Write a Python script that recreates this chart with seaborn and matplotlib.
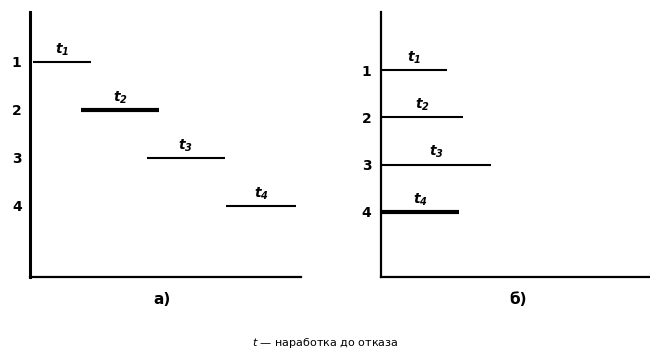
import matplotlib
matplotlib.use("Agg")
import matplotlib.pyplot as plt
import seaborn as sns
import pandas as pd

sns.set_style("white")
plt.rcParams['font.family'] = ['DejaVu Sans']
plt.rcParams['text.color'] = 'black'
plt.rcParams['ytick.color'] = 'black'
plt.rcParams['xtick.color'] = 'black'
plt.rcParams['mathtext.fontset'] = 'custom'
plt.rcParams['mathtext.bf'] = 'DejaVu Sans:italic:bold'
plt.rcParams['mathtext.it'] = 'DejaVu Sans:italic'
plt.rcParams['mathtext.rm'] = 'DejaVu Sans'
plt.rcParams['lines.solid_capstyle'] = 'butt'

# Data: operating time intervals for objects 1..4
objects = [1, 2, 3, 4]
labels = [r'$\mathbf{t_1}$', r'$\mathbf{t_2}$', r'$\mathbf{t_3}$', r'$\mathbf{t_4}$']
# panel a) — sequential
a_start = [1, 19, 43, 72.5]
a_end = [22.5, 47.5, 72, 98]
a_thick = [False, True, False, False]
# panel б) — simultaneous start
b_start = [0, 0, 0, 0]
b_end = [24.5, 30.5, 41, 29]
b_thick = [False, False, False, True]


def make_df(starts, ends, thick):
    rows = []
    for o, s, e, th in zip(objects, starts, ends, thick):
        rows.append(dict(obj=o, t=s, level=o, thick=th))
        rows.append(dict(obj=o, t=e, level=o, thick=th))
    return pd.DataFrame(rows)


fig = plt.figure(figsize=(6.5, 3.5), dpi=100)
ax_a = fig.add_axes([30/650, 73/350, 271/650, 265/350])
ax_b = fig.add_axes([381/650, 73/350, 269/650, 265/350])


def draw(ax, starts, ends, thick, ylim, spine_lw, pad):
    df = make_df(starts, ends, thick)
    sns.lineplot(data=df, x='t', y='level', units='obj', estimator=None,
                 size='thick', sizes={False: 1.5, True: 3.0}, size_order=[True, False],
                 color='black', legend=False, sort=False, ax=ax)
    for ln in ax.get_lines():
        ln.set_solid_capstyle('butt')
    ax.set_xlim(0, 100)
    ax.set_ylim(*ylim)
    ax.set_xticks([])
    ax.set_yticks(objects)
    ax.set_yticklabels([str(o) for o in objects], fontsize=10, fontweight='bold', color='black')
    ax.tick_params(axis='y', length=0, pad=pad)
    ax.set_xlabel('')
    ax.set_ylabel('')
    for side in ['top', 'right']:
        ax.spines[side].set_visible(False)
    ax.spines['left'].set_linewidth(spine_lw)
    ax.spines['bottom'].set_linewidth(1.6)
    ax.spines['left'].set_color('black')
    ax.spines['bottom'].set_color('black')
    for o, s, e, lab in zip(objects, starts, ends, labels):
        ax.annotate(lab, xy=((s + e) / 2, o), xytext=(0, 3), textcoords='offset points',
                    ha='center', va='bottom', fontsize=10, color='black')


draw(ax_a, a_start, a_end, a_thick, (5.48, -0.04), 2.2, 6)
draw(ax_b, b_start, b_end, b_thick, (5.38, -0.23), 1.6, 7)

fig.text(162/650, 1 - 300/350, 'а)', ha='center', va='center', fontsize=11, fontweight='bold')
fig.text(518/650, 1 - 300/350, 'б)', ha='center', va='center', fontsize=11, fontweight='bold')
fig.text(0.5, 1 - 343/350, r'$t$ — наработка до отказа', ha='center', va='center', fontsize=8)

fig.savefig('out.png', dpi=100)
